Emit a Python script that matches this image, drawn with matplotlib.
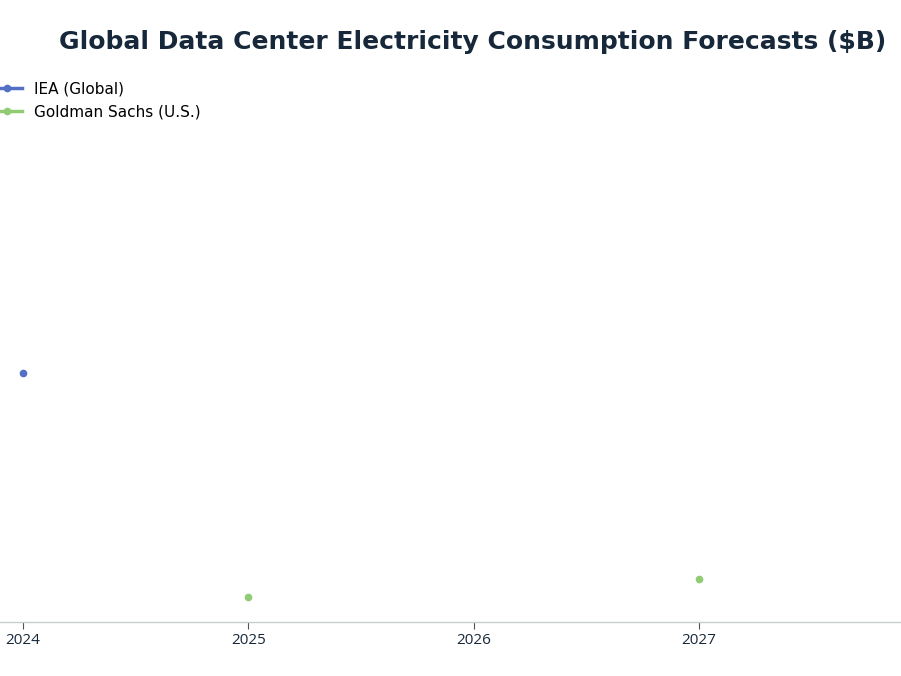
import matplotlib
matplotlib.use("Agg")
import matplotlib.pyplot as plt
import numpy as np

years = [2024, 2025, 2026, 2027]
iea_global = [415, np.nan, np.nan, np.nan]
goldman_us = [np.nan, 42, np.nan, 72]
series_names = ["IEA (Global)", "Goldman Sachs (U.S.)"]
title = "Global Data Center Electricity Consumption Forecasts ($B)"

W, H = 901, 676
fig = plt.figure(figsize=(W / 100, H / 100), dpi=100)
ax = fig.add_axes([0, (H - 622) / H, 900 / W, 552 / H])

ax.plot(years, iea_global, color="#5470c6", lw=2.5, marker="o", ms=4.5, label=series_names[0])
ax.plot(years, goldman_us, color="#91cc75", lw=2.5, marker="o", ms=4.5, label=series_names[1])

ax.set_xlim(2023.898, 2027.892)
ax.set_ylim(0, 920)
ax.set_xticks([2024, 2025, 2026, 2027])
ax.set_xticklabels(["2024", "2025", "2026", "2027"])
for s in ["top", "right", "left"]:
    ax.spines[s].set_visible(False)
ax.spines["bottom"].set_color("#c8cdd0")
ax.spines["bottom"].set_linewidth(1)
ax.set_yticks([])
ax.tick_params(axis="x", length=5, color="#4a5560", pad=3, labelsize=11, labelcolor="#17283a")
for lab in ax.get_xticklabels():
    lab.set_fontfamily("Open Sans")

fig.text(473 / W, 1 - 42 / H, title, ha="center", va="center", fontsize=18,
         fontweight="bold", color="#17283a", family="DejaVu Sans")

leg = fig.legend(loc="upper left", bbox_to_anchor=(-0.025, 1 - 68 / H), frameon=False,
                 fontsize=11, handlelength=2.0, handletextpad=0.8, labelspacing=0.5)

fig.savefig("out.png", dpi=100)
